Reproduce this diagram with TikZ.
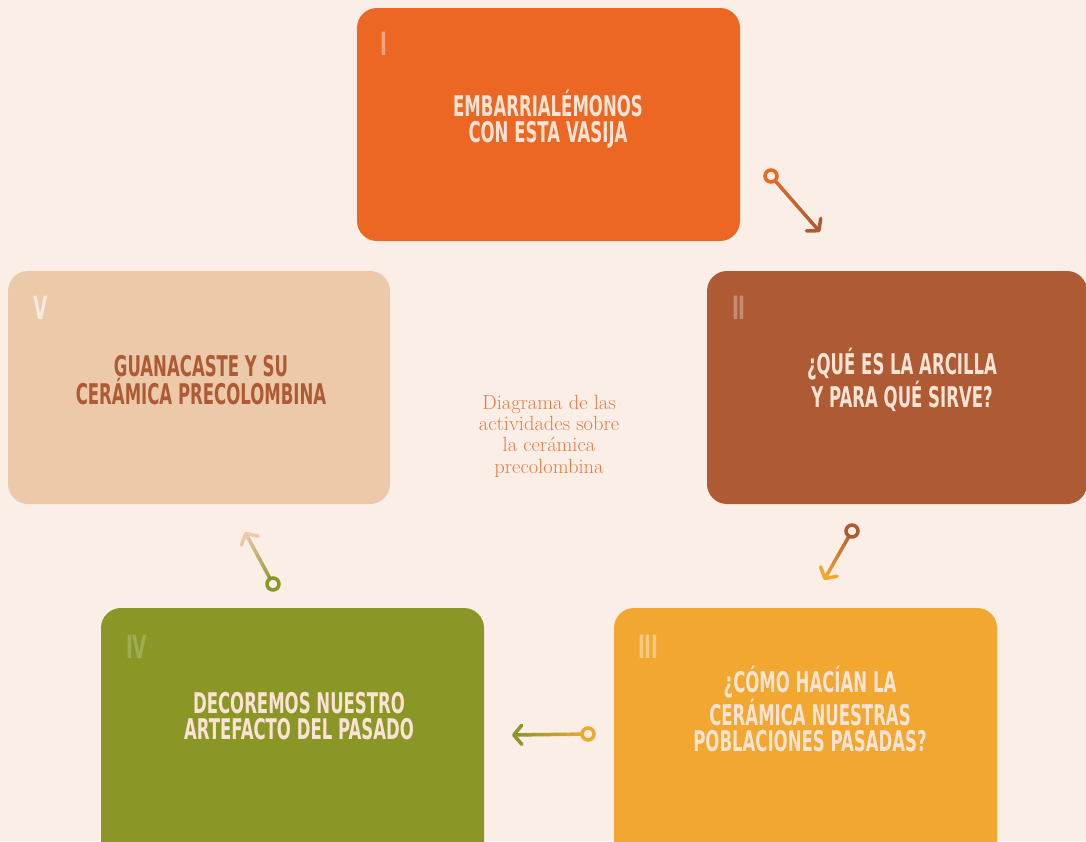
\documentclass[tikz,border=0pt]{standalone}
\usepackage{fontspec}
\usetikzlibrary{arrows.meta,calc}
\newfontfamily\boxfont[FakeStretch=0.58]{DejaVu Sans}
\definecolor{bgcream}{HTML}{FBEEE6}
\definecolor{clayorange}{HTML}{EC6724}
\definecolor{claybrown}{HTML}{AE5B35}
\definecolor{clayyellow}{HTML}{F2A730}
\definecolor{clayolive}{HTML}{8A9727}
\definecolor{claysand}{HTML}{ECC9A8}
\definecolor{boxtext}{HTML}{FBE3D4}
\definecolor{centertext}{HTML}{E97A42}
\tikzset{
    stagebox/.style={rectangle, rounded corners=20pt, minimum width=383pt, minimum height=233pt, inner sep=0pt},
    stagetext/.style={font=\boxfont\bfseries\fontsize{28.5}{26.5}\selectfont, align=center, text=boxtext},
    numeral/.style={font=\boxfont\bfseries\fontsize{32}{32}\selectfont, anchor=north west, inner sep=0pt},
    linkline/.style={line width=3.5pt, line cap=round},
}
% gradient connector: start, end, start colour, end colour
\newcommand{\claylink}[4]{%
    \foreach \k [evaluate=\k as \a using \k/10, evaluate=\k as \b using (\k+1)/10,
                 evaluate=\k as \p using 100-\k*10-5] in {0,...,8}
        \draw[linkline, color=#3!\p!#4] ($(#1)!\a!(#2)$) -- ($(#1)!\b!(#2)$);
    \draw[linkline, color=#4, -{Straight Barb[length=8pt, width=19pt, round]}] ($(#1)!0.9!(#2)$) -- (#2);
    \draw[line width=3.5pt, color=#3, fill=bgcream] (#1) circle (6pt);
}
\begin{document}
\begin{tikzpicture}[x=1pt, y=-1pt]
    \fill[bgcream] (0,0) rectangle (1086,841);
    \useasboundingbox (0,0) rectangle (1086,841);
    \clip (0,0) rectangle (1086,841);

    % stages
    \node[stagebox, fill=clayorange] (boxI) at (548.5,124.5) {};
    \node[stagebox, fill=claybrown, minimum width=380pt] (boxII) at (897,387.5) {};
    \node[stagebox, fill=clayyellow, minimum height=260pt] (boxIII) at (805.5,738) {};
    \node[stagebox, fill=clayolive, minimum height=260pt] (boxIV) at (292.5,738) {};
    \node[stagebox, fill=claysand, minimum width=382pt] (boxV) at (199,387.5) {};

    \node[numeral, text=white!40!clayorange] (numI) at ($(boxI.north west)+(23,24)$) {I};
    \node[numeral, text=white!30!claybrown] (numII) at ($(boxII.north west)+(25,25)$) {II};
    \node[numeral, text=white!40!clayyellow] (numIII) at ($(boxIII.north west)+(24,27)$) {III};
    \node[numeral, text=white!20!clayolive] (numIV) at ($(boxIV.north west)+(25,27)$) {IV};
    \node[numeral, text=white!60!claysand] (numV) at ($(boxV.north west)+(25,25)$) {V};

    \node[stagetext] (txtI) at (548,119) {EMBARRIALÉMONOS\\CON ESTA VASIJA};
    \node[stagetext] (txtII) at (902,380) {¿QUÉ ES LA ARCILLA\\Y PARA QUÉ SIRVE?};
    \node[stagetext] (txtIII) at (810,709) {¿CÓMO HACÍAN LA\\CERÁMICA NUESTRAS\\POBLACIONES PASADAS?};
    \node[stagetext] (txtIV) at (299,716) {DECOREMOS NUESTRO\\ARTEFACTO DEL PASADO};
    \node[stagetext, text=claybrown] (txtV) at (201,380) {GUANACASTE Y SU\\CERÁMICA PRECOLOMBINA};

    \node[font=\fontsize{20.5}{21.3}\selectfont, align=center, text=centertext] (title) at (549,436)
        {Diagrama de las\\actividades sobre\\la cerámica\\precolombina};

    % connectors
    \coordinate (startI) at (771,176);
    \coordinate (endI) at (820,232);
    \coordinate (startII) at (852,531);
    \coordinate (endII) at (824,580);
    \coordinate (startIII) at (588,734);
    \coordinate (endIII) at (512,735);
    \coordinate (startIV) at (273,584);
    \coordinate (endIV) at (245,532);
    \claylink{startI}{endI}{clayorange}{claybrown}
    \claylink{startII}{endII}{claybrown}{clayyellow}
    \claylink{startIII}{endIII}{clayyellow}{clayolive}
    \claylink{startIV}{endIV}{clayolive}{claysand}
\end{tikzpicture}
\end{document}
